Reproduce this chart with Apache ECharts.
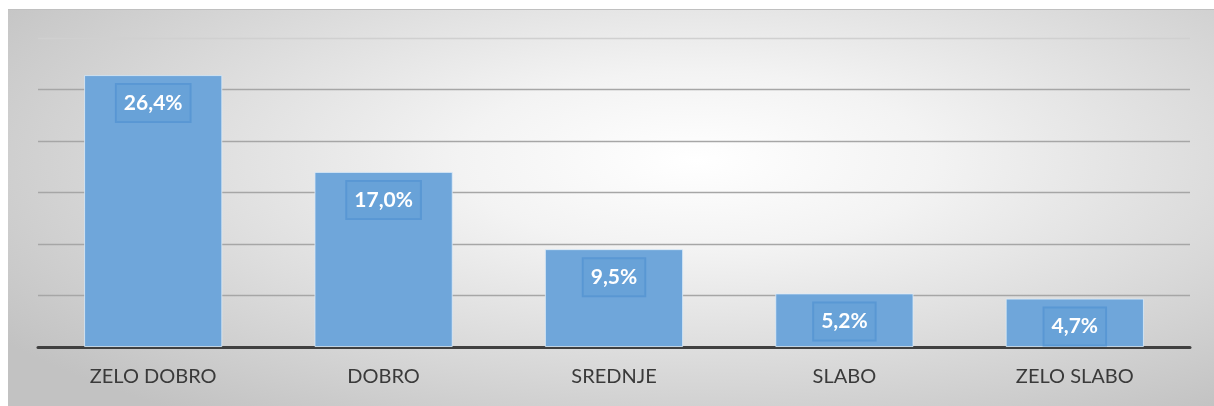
<!DOCTYPE html>
<html>
<head>
<meta charset="utf-8">
<script src="https://cdn.jsdelivr.net/npm/echarts@6/dist/echarts.min.js"></script>
<style>
html,body{margin:0;padding:0;background:#fff;}
#bg{position:absolute;left:8px;top:9px;width:1206px;height:397px;
 background:radial-gradient(ellipse 70% 80% at 57% 38%, #ffffff 0%, #f3f3f3 28%, #dcdcdc 62%, #c2c2c2 100%);
 border-top:1px solid #c0c0c0;box-sizing:border-box;}
#chart{position:absolute;left:0;top:0;width:1214px;height:406px;}
</style>
</head>
<body>
<div id="bg"></div>
<div id="chart"></div>
<script>
const categories = ['ZELO DOBRO', 'DOBRO', 'SREDNJE', 'SLABO', 'ZELO SLABO'];
const values = [26.4, 17.0, 9.5, 5.2, 4.7];
const yTicks = [0, 5, 10, 15, 20, 25, 30];

const chart = echarts.init(document.getElementById('chart'), null, {renderer: 'canvas'});
chart.setOption({
  backgroundColor: 'transparent',
  animation: false,
  grid: {left: 38, right: 24, top: 38, bottom: 59, containLabel: false},
  xAxis: {
    type: 'category',
    data: categories,
    axisLine: {show: true, lineStyle: {color: '#404040', width: 3}},
    axisTick: {show: false},
    axisLabel: {color: '#3a3a3a', fontFamily: 'Lato, "Open Sans", sans-serif', fontSize: 20, margin: 20}
  },
  yAxis: {
    type: 'value',
    min: yTicks[0],
    max: yTicks[yTicks.length - 1],
    interval: 5,
    axisLabel: {show: false},
    axisLine: {show: false},
    axisTick: {show: false},
    splitLine: {show: true, lineStyle: {color: ['#a6a6a6', '#a6a6a6', '#a6a6a6', '#a6a6a6', '#a6a6a6', '#a6a6a6', '#d0d0d0'], width: 1.3}}
  },
  series: [{
    type: 'bar',
    data: values,
    barWidth: '60%',
    itemStyle: {color: '#6fa6da', borderColor: 'rgba(220,235,248,0.8)', borderWidth: 1},
    label: {
      show: true,
      position: 'insideTop',
      distance: 9,
      formatter: p => p.value.toFixed(1).replace('.', ',') + '%',
      color: '#ffffff',
      fontFamily: 'Lato, "Open Sans", sans-serif',
      fontWeight: 'bold',
      fontSize: 21,
      lineHeight: 22,
      backgroundColor: 'rgba(91,155,213,0.35)',
      borderColor: 'rgba(84,148,210,0.8)',
      borderWidth: 1,
      padding: [8, 8, 8, 8]
    }
  }]
});
</script>
</body>
</html>
